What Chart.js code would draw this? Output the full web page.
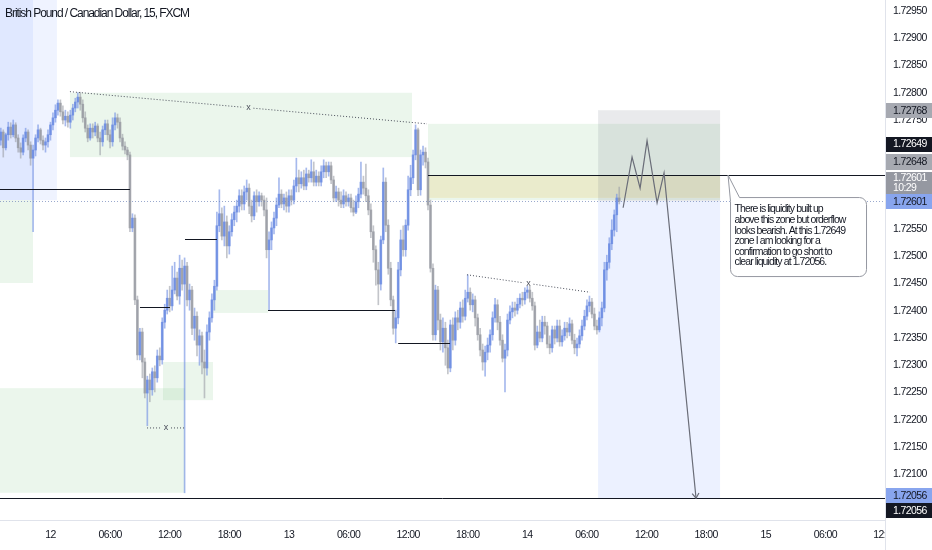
<!DOCTYPE html>
<html>
<head>
<meta charset="utf-8">
<script src="https://cdn.jsdelivr.net/npm/chart.js@4.4.0/dist/chart.umd.min.js"></script>
<style>
  html, body { margin: 0; padding: 0; background: #fff; overflow: hidden; }
  #wrap { width: 932px; height: 550px; position: relative; }
</style>
</head>
<body>
<div id="wrap"><canvas id="chart"></canvas></div>
<script>
const TITLE = 'British Pound / Canadian Dollar, 15, FXCM';
const BAR_COUNTDOWN = '10:29';

// time axis in hours from the 12th 00:00, one bar per 15 minutes
const FIRST_BAR_HOUR = -5;
const BAR_HOURS = 0.25;
const X_MIN = -5.08, X_MAX = 84;
const Y_MIN = 1.720161, Y_MAX = 1.729702;

const opens = [
  1.72713,1.72728,1.72699,1.72723,1.72737,1.72723,1.72741,1.72717,1.72699,1.72691,
  1.72717,1.72728,1.72704,1.72680,1.72695,1.72717,1.72732,1.72713,1.72704,1.72710,
  1.72723,1.72741,1.72754,1.72768,1.72781,1.72765,1.72750,1.72757,1.72746,1.72759,
  1.72772,1.72783,1.72792,1.72779,1.72754,1.72735,1.72717,1.72735,1.72728,1.72739,
  1.72717,1.72710,1.72732,1.72743,1.72723,1.72710,1.72741,1.72754,1.72746,1.72717,
  1.72702,1.72695,1.72686,1.72552,1.72570,1.72420,1.72319,1.72361,1.72306,1.72249,
  1.72273,1.72255,1.72288,1.72277,1.72317,1.72310,1.72379,1.72401,1.72423,1.72409,
  1.72438,1.72460,1.72427,1.72478,1.72449,1.72482,1.72420,1.72438,1.72368,1.72390,
  1.72337,1.72354,1.72306,1.72295,1.72361,1.72387,1.72420,1.72445,1.72556,1.72578,
  1.72537,1.72563,1.72519,1.72545,1.72567,1.72581,1.72592,1.72611,1.72596,1.72618,
  1.72625,1.72592,1.72574,1.72611,1.72600,1.72611,1.72603,1.72585,1.72512,1.72530,
  1.72552,1.72570,1.72594,1.72614,1.72596,1.72607,1.72592,1.72611,1.72603,1.72629,
  1.72644,1.72633,1.72644,1.72629,1.72651,1.72644,1.72655,1.72636,1.72647,1.72636,
  1.72655,1.72666,1.72655,1.72666,1.72640,1.72607,1.72618,1.72603,1.72596,1.72611,
  1.72600,1.72607,1.72589,1.72581,1.72600,1.72614,1.72636,1.72625,1.72611,1.72585,
  1.72545,1.72512,1.72475,1.72449,1.72530,1.72636,1.72557,1.72478,1.72420,1.72368,
  1.72387,1.72475,1.72530,1.72512,1.72557,1.72622,1.72644,1.72686,1.72732,1.72622,
  1.72686,1.72691,1.72673,1.72594,1.72478,1.72356,1.72438,1.72383,1.72343,1.72368,
  1.72332,1.72295,1.72374,1.72346,1.72387,1.72379,1.72405,1.72390,1.72423,1.72434,
  1.72411,1.72420,1.72387,1.72356,1.72328,1.72306,1.72324,1.72337,1.72356,1.72387,
  1.72411,1.72379,1.72346,1.72313,1.72328,1.72383,1.72398,1.72405,1.72401,1.72412,
  1.72423,1.72420,1.72434,1.72438,1.72423,1.72409,1.72337,1.72361,1.72350,1.72379,
  1.72372,1.72339,1.72332,1.72365,1.72350,1.72372,1.72343,1.72354,1.72368,1.72361,
  1.72376,1.72346,1.72332,1.72339,1.72354,1.72372,1.72390,1.72409,1.72416,1.72394,
  1.72372,1.72365,1.72387,1.72405,1.72475,1.72489,1.72523,1.72548,1.72576,1.72607
];
const highs = [
  1.72735,1.72732,1.72726,1.72746,1.72745,1.72750,1.72745,1.72723,1.72708,1.72723,
  1.72735,1.72732,1.72710,1.72704,1.72723,1.72741,1.72735,1.72721,1.72717,1.72732,
  1.72746,1.72763,1.72778,1.72787,1.72787,1.72776,1.72768,1.72765,1.72768,1.72779,
  1.72790,1.72800,1.72801,1.72787,1.72765,1.72741,1.72743,1.72743,1.72746,1.72743,
  1.72728,1.72739,1.72750,1.72750,1.72732,1.72754,1.72763,1.72761,1.72754,1.72724,
  1.72710,1.72700,1.72691,1.72578,1.72576,1.72427,1.72368,1.72368,1.72313,1.72280,
  1.72284,1.72295,1.72299,1.72328,1.72332,1.72387,1.72412,1.72438,1.72445,1.72482,
  1.72489,1.72471,1.72502,1.72493,1.72497,1.72489,1.72449,1.72445,1.72405,1.72398,
  1.72365,1.72361,1.72328,1.72374,1.72398,1.72431,1.72456,1.72581,1.72622,1.72589,
  1.72592,1.72574,1.72556,1.72578,1.72592,1.72603,1.72622,1.72622,1.72629,1.72640,
  1.72633,1.72603,1.72618,1.72622,1.72618,1.72616,1.72611,1.72607,1.72545,1.72563,
  1.72581,1.72607,1.72644,1.72622,1.72614,1.72618,1.72622,1.72622,1.72640,1.72680,
  1.72658,1.72655,1.72658,1.72662,1.72658,1.72677,1.72673,1.72658,1.72655,1.72666,
  1.72677,1.72673,1.72673,1.72673,1.72647,1.72629,1.72625,1.72618,1.72622,1.72618,
  1.72614,1.72614,1.72603,1.72611,1.72625,1.72673,1.72647,1.72669,1.72622,1.72596,
  1.72556,1.72519,1.72489,1.72537,1.72662,1.72644,1.72567,1.72489,1.72427,1.72401,
  1.72489,1.72548,1.72556,1.72567,1.72647,1.72667,1.72695,1.72741,1.72735,1.72695,
  1.72702,1.72699,1.72680,1.72603,1.72486,1.72447,1.72445,1.72394,1.72387,1.72379,
  1.72346,1.72383,1.72387,1.72398,1.72401,1.72416,1.72420,1.72438,1.72466,1.72442,
  1.72431,1.72427,1.72394,1.72368,1.72339,1.72335,1.72350,1.72365,1.72398,1.72423,
  1.72420,1.72390,1.72356,1.72339,1.72394,1.72409,1.72416,1.72416,1.72423,1.72431,
  1.72434,1.72442,1.72445,1.72445,1.72434,1.72416,1.72372,1.72383,1.72390,1.72390,
  1.72379,1.72354,1.72372,1.72372,1.72383,1.72383,1.72365,1.72379,1.72379,1.72387,
  1.72383,1.72357,1.72350,1.72365,1.72383,1.72401,1.72420,1.72427,1.72423,1.72405,
  1.72383,1.72398,1.72416,1.72489,1.72502,1.72534,1.72567,1.72585,1.72614,1.72627
];
const lows = [
  1.72704,1.72682,1.72695,1.72713,1.72717,1.72719,1.72710,1.72691,1.72680,1.72686,
  1.72710,1.72695,1.72667,1.72545,1.72684,1.72710,1.72706,1.72695,1.72691,1.72700,
  1.72713,1.72732,1.72746,1.72759,1.72757,1.72743,1.72739,1.72737,1.72735,1.72750,
  1.72765,1.72772,1.72768,1.72746,1.72728,1.72710,1.72713,1.72717,1.72721,1.72710,
  1.72686,1.72702,1.72723,1.72713,1.72699,1.72702,1.72732,1.72735,1.72710,1.72695,
  1.72688,1.72677,1.72545,1.72545,1.72411,1.72310,1.72310,1.72277,1.72240,1.72189,
  1.72233,1.72245,1.72251,1.72269,1.72299,1.72302,1.72368,1.72394,1.72398,1.72401,
  1.72431,1.72420,1.72412,1.72438,1.72066,1.72409,1.72401,1.72356,1.72346,1.72317,
  1.72300,1.72284,1.72240,1.72282,1.72346,1.72379,1.72401,1.72438,1.72545,1.72530,
  1.72519,1.72497,1.72504,1.72537,1.72556,1.72563,1.72581,1.72585,1.72585,1.72603,
  1.72578,1.72563,1.72567,1.72581,1.72592,1.72592,1.72574,1.72497,1.72401,1.72512,
  1.72541,1.72556,1.72589,1.72589,1.72585,1.72581,1.72581,1.72594,1.72596,1.72618,
  1.72618,1.72625,1.72622,1.72622,1.72636,1.72636,1.72629,1.72629,1.72629,1.72629,
  1.72644,1.72644,1.72647,1.72633,1.72600,1.72600,1.72592,1.72589,1.72589,1.72592,
  1.72592,1.72581,1.72574,1.72578,1.72589,1.72607,1.72614,1.72600,1.72576,1.72534,
  1.72489,1.72447,1.72411,1.72438,1.72523,1.72545,1.72467,1.72409,1.72357,1.72341,
  1.72376,1.72464,1.72500,1.72500,1.72548,1.72611,1.72633,1.72677,1.72611,1.72612,
  1.72667,1.72662,1.72585,1.72471,1.72346,1.72346,1.72365,1.72328,1.72324,1.72300,
  1.72284,1.72288,1.72328,1.72337,1.72365,1.72368,1.72379,1.72383,1.72416,1.72401,
  1.72398,1.72372,1.72346,1.72317,1.72291,1.72280,1.72310,1.72324,1.72346,1.72379,
  1.72365,1.72337,1.72306,1.72251,1.72317,1.72376,1.72387,1.72390,1.72394,1.72405,
  1.72409,1.72412,1.72423,1.72416,1.72401,1.72328,1.72332,1.72343,1.72343,1.72357,
  1.72332,1.72321,1.72324,1.72339,1.72343,1.72335,1.72335,1.72346,1.72350,1.72354,
  1.72339,1.72321,1.72317,1.72332,1.72346,1.72365,1.72383,1.72398,1.72387,1.72365,
  1.72357,1.72361,1.72372,1.72398,1.72456,1.72478,1.72512,1.72537,1.72545,1.72596
];
const closes = [
  1.72728,1.72699,1.72723,1.72737,1.72723,1.72741,1.72717,1.72699,1.72691,1.72717,
  1.72728,1.72704,1.72680,1.72695,1.72717,1.72732,1.72713,1.72704,1.72710,1.72723,
  1.72741,1.72754,1.72768,1.72781,1.72765,1.72750,1.72757,1.72746,1.72759,1.72772,
  1.72783,1.72792,1.72779,1.72754,1.72735,1.72717,1.72735,1.72728,1.72739,1.72717,
  1.72710,1.72732,1.72743,1.72723,1.72710,1.72741,1.72754,1.72746,1.72717,1.72702,
  1.72695,1.72686,1.72552,1.72570,1.72420,1.72319,1.72361,1.72306,1.72249,1.72273,
  1.72255,1.72288,1.72277,1.72317,1.72310,1.72379,1.72401,1.72423,1.72409,1.72438,
  1.72460,1.72427,1.72478,1.72449,1.72482,1.72420,1.72438,1.72368,1.72390,1.72337,
  1.72354,1.72306,1.72295,1.72361,1.72387,1.72420,1.72445,1.72556,1.72578,1.72537,
  1.72563,1.72519,1.72545,1.72567,1.72581,1.72592,1.72611,1.72596,1.72618,1.72625,
  1.72592,1.72574,1.72611,1.72600,1.72611,1.72603,1.72585,1.72512,1.72530,1.72552,
  1.72570,1.72594,1.72614,1.72596,1.72607,1.72592,1.72611,1.72603,1.72629,1.72644,
  1.72633,1.72644,1.72629,1.72651,1.72644,1.72655,1.72636,1.72647,1.72636,1.72655,
  1.72666,1.72655,1.72666,1.72640,1.72607,1.72618,1.72603,1.72596,1.72611,1.72600,
  1.72607,1.72589,1.72581,1.72600,1.72614,1.72636,1.72625,1.72611,1.72585,1.72545,
  1.72512,1.72475,1.72449,1.72530,1.72636,1.72557,1.72478,1.72420,1.72368,1.72387,
  1.72475,1.72530,1.72512,1.72557,1.72622,1.72644,1.72686,1.72732,1.72622,1.72686,
  1.72691,1.72673,1.72594,1.72478,1.72356,1.72438,1.72383,1.72343,1.72368,1.72332,
  1.72295,1.72374,1.72346,1.72387,1.72379,1.72405,1.72390,1.72423,1.72434,1.72411,
  1.72420,1.72387,1.72356,1.72328,1.72306,1.72324,1.72337,1.72356,1.72387,1.72411,
  1.72379,1.72346,1.72313,1.72328,1.72383,1.72398,1.72405,1.72401,1.72412,1.72423,
  1.72420,1.72434,1.72438,1.72423,1.72409,1.72337,1.72361,1.72350,1.72379,1.72372,
  1.72339,1.72332,1.72365,1.72350,1.72372,1.72343,1.72354,1.72368,1.72361,1.72376,
  1.72346,1.72332,1.72339,1.72354,1.72372,1.72390,1.72409,1.72416,1.72394,1.72372,
  1.72365,1.72387,1.72405,1.72475,1.72489,1.72523,1.72548,1.72576,1.72607,1.72601
];

const xTickHours = [0, 6, 12, 18, 24, 30, 36, 42, 48, 54, 60, 66, 72, 78, 84];
const xTickLabels = ['12', '06:00', '12:00', '18:00', '13', '06:00', '12:00', '18:00',
                     '14', '06:00', '12:00', '18:00', '15', '06:00', '12:00'];
const yTicks = [1.721, 1.7215, 1.722, 1.7225, 1.723, 1.7235, 1.724, 1.7245, 1.725,
                1.7255, 1.726, 1.7265, 1.727, 1.7275, 1.728, 1.7285, 1.729, 1.7295];

// drawings: [startHour, endHour, topPrice, bottomPrice]
const blueZones = [[-5.1, -1.76, 1.7298, 1.72603], [-5.1, 0.65, 1.7298, 1.72603]];
const greenZones = [
  [-5.1, -1.76, 1.72603, 1.72451],
  [1.96, 36.39, 1.72800, 1.72682],
  [-5.1, 13.54, 1.72258, 1.72066],
  [11.33, 16.36, 1.72306, 1.72236],
  [16.36, 21.9, 1.72438, 1.72396],
  [38.0, 67.4, 1.72743, 1.72603]
];
const yellowZones = [[38.0, 67.4, 1.72649, 1.72607]];
// short position tool
const shortSpan = [55.12, 67.4];
const shortEntry = 1.72601, shortStop = 1.72768, shortTarget = 1.72056;
// horizontal levels: [startHour, endHour, price]
const levelLines = [
  [-5.1, 8.0, 1.72623], [9.01, 12.03, 1.72407], [13.54, 16.76, 1.72531],
  [21.9, 34.68, 1.72401], [35.0, 40.22, 1.72341], [38.0, 84, 1.72649], [-5.1, 84, 1.72056]
];
// dotted liquidity lines: [h0, p0, h1, p1]
const dottedLines = [
  [1.96, 1.72802, 37.9, 1.72743],
  [41.93, 1.72466, 54.31, 1.72434],
  [9.72, 1.72185, 13.54, 1.72185]
];
const projHours = [57.64, 58.54, 59.35, 60.05, 61.06, 61.76, 64.98];
const projPrices = [1.72589, 1.72682, 1.72625, 1.72712, 1.72598, 1.72653, 1.72056];
const noteAnchor = [68.2, 1.72649];
const noteLines = [
  'There is liquidity built up',
  'above this zone but orderflow',
  'looks bearish. At this 1.72649',
  'zone I am looking for a',
  'confirmation to go short to',
  'clear liquidity at 1.72056.'
];

const FONT = "'Liberation Sans', Arial, sans-serif";
const AXIS_SPACING = '-0.6px';
const TEXT = '#131722';
const UP_BODY = 'rgba(98, 132, 224, 0.75)', UP_WICK = 'rgba(118, 148, 228, 0.65)';
const DN_BODY = 'rgba(145, 148, 156, 0.72)', DN_WICK = 'rgba(155, 158, 166, 0.6)';

const barHours = closes.map((_, i) => FIRST_BAR_HOUR + i * BAR_HOURS);
const isUp = closes.map((c, i) => c >= opens[i]);
const lastClose = closes[closes.length - 1];

function clipArea(ctx, a) {
  ctx.beginPath();
  ctx.rect(a.left, a.top, a.right - a.left, a.bottom - a.top);
  ctx.clip();
}

// squeeze text to a target width with letter spacing (the original uses a narrow face)
function spacingFor(ctx, text, target) {
  ctx.letterSpacing = '0px';
  const w = ctx.measureText(text).width;
  return Math.min(0, (target - w) / text.length) + 'px';
}

const drawings = {
  id: 'drawings',
  beforeDraw(chart) {
    chart.ctx.letterSpacing = AXIS_SPACING;
  },
  beforeDatasetsDraw(chart) {
    const { ctx, chartArea, scales: { x, y } } = chart;
    ctx.save();
    clipArea(ctx, chartArea);
    const rect = (z, color) => {
      const x0 = x.getPixelForValue(z[0]), x1 = x.getPixelForValue(z[1]);
      const y0 = y.getPixelForValue(z[2]), y1 = y.getPixelForValue(z[3]);
      ctx.fillStyle = color;
      ctx.fillRect(x0, y0, x1 - x0, y1 - y0);
    };
    blueZones.forEach(z => rect(z, 'rgba(41, 98, 255, 0.075)'));
    greenZones.forEach(z => rect(z, 'rgba(76, 175, 80, 0.11)'));
    yellowZones.forEach(z => rect(z, 'rgba(232, 186, 50, 0.17)'));
    rect([shortSpan[0], shortSpan[1], shortStop, shortEntry], 'rgba(120, 123, 134, 0.16)');
    rect([shortSpan[0], shortSpan[1], shortEntry, shortTarget], 'rgba(41, 98, 255, 0.09)');
    ctx.restore();
  },
  afterDatasetsDraw(chart) {
    const { ctx, chartArea, scales: { x, y } } = chart;
    ctx.save();
    clipArea(ctx, chartArea);

    // current price line
    const yc = Math.round(y.getPixelForValue(lastClose)) + 0.5;
    ctx.strokeStyle = 'rgba(120, 140, 190, 0.75)';
    ctx.lineWidth = 1;
    ctx.setLineDash([1, 2]);
    ctx.beginPath(); ctx.moveTo(chartArea.left, yc); ctx.lineTo(chartArea.right, yc); ctx.stroke();

    // dotted liquidity lines with an x in the middle
    ctx.strokeStyle = '#4a4e5a';
    ctx.setLineDash([1, 2]);
    dottedLines.forEach(d => {
      const x0 = x.getPixelForValue(d[0]), y0 = y.getPixelForValue(d[1]);
      const x1 = x.getPixelForValue(d[2]), y1 = y.getPixelForValue(d[3]);
      const mx = (x0 + x1) / 2, my = (y0 + y1) / 2;
      const len = Math.hypot(x1 - x0, y1 - y0), ux = (x1 - x0) / len, uy = (y1 - y0) / len;
      ctx.beginPath();
      ctx.moveTo(x0, y0); ctx.lineTo(mx - ux * 5, my - uy * 5);
      ctx.moveTo(mx + ux * 5, my + uy * 5); ctx.lineTo(x1, y1);
      ctx.stroke();
      ctx.fillStyle = '#4a4e5a';
      ctx.font = '9px ' + FONT;
      ctx.letterSpacing = '0px';
      ctx.textAlign = 'center'; ctx.textBaseline = 'middle';
      ctx.fillText('x', mx, my - 0.5);
    });
    ctx.setLineDash([]);

    // solid levels
    ctx.strokeStyle = '#131722';
    levelLines.forEach(l => {
      const yy = Math.round(y.getPixelForValue(l[2])) + 0.5;
      ctx.beginPath();
      ctx.moveTo(x.getPixelForValue(l[0]), yy);
      ctx.lineTo(x.getPixelForValue(l[1]), yy);
      ctx.stroke();
    });

    // projected path
    ctx.strokeStyle = '#6a6d78';
    ctx.lineWidth = 1.2;
    ctx.beginPath();
    projHours.forEach((h, i) => {
      const px = x.getPixelForValue(h), py = y.getPixelForValue(projPrices[i]);
      if (i === 0) ctx.moveTo(px, py); else ctx.lineTo(px, py);
    });
    ctx.stroke();
    const n = projHours.length;
    const ex = x.getPixelForValue(projHours[n - 1]), ey = y.getPixelForValue(projPrices[n - 1]);
    const sx = x.getPixelForValue(projHours[n - 2]), sy = y.getPixelForValue(projPrices[n - 2]);
    const ang = Math.atan2(ey - sy, ex - sx);
    ctx.beginPath();
    ctx.moveTo(ex - 6 * Math.cos(ang - 0.6), ey - 6 * Math.sin(ang - 0.6));
    ctx.lineTo(ex, ey);
    ctx.lineTo(ex - 6 * Math.cos(ang + 0.6), ey - 6 * Math.sin(ang + 0.6));
    ctx.stroke();

    // callout
    const tx = x.getPixelForValue(noteAnchor[0]), ty = y.getPixelForValue(noteAnchor[1]);
    const bx = tx + 2.5, by = ty + 22.5, bw = 136, bh = 79, r = 7;
    ctx.lineWidth = 1;
    ctx.strokeStyle = '#9598a1';
    ctx.fillStyle = '#ffffff';
    ctx.beginPath();
    ctx.moveTo(bx + 9, by);
    ctx.lineTo(tx, ty);
    ctx.lineTo(bx, by + 4);
    ctx.lineTo(bx, by + bh - r);
    ctx.arcTo(bx, by + bh, bx + r, by + bh, r);
    ctx.lineTo(bx + bw - r, by + bh);
    ctx.arcTo(bx + bw, by + bh, bx + bw, by + bh - r, r);
    ctx.lineTo(bx + bw, by + r);
    ctx.arcTo(bx + bw, by, bx + bw - r, by, r);
    ctx.closePath();
    ctx.fill();
    ctx.stroke();
    ctx.fillStyle = TEXT;
    ctx.font = '10.5px ' + FONT;
    ctx.letterSpacing = spacingFor(ctx, noteLines[1], 111);
    ctx.textAlign = 'left'; ctx.textBaseline = 'middle';
    noteLines.forEach((s, i) => ctx.fillText(s, bx + 4, by + 12 + i * 10.6));
    ctx.restore();
  },
  afterDraw(chart) {
    const { ctx, chartArea, scales: { y } } = chart;
    ctx.save();
    // blank the axis corner so the last time label is cut at the price scale
    ctx.fillStyle = '#ffffff';
    ctx.fillRect(chartArea.right + 0.5, chartArea.bottom + 1, 60, 40);
    ctx.strokeStyle = '#e0e3eb';
    ctx.lineWidth = 1;
    ctx.beginPath();
    ctx.moveTo(chartArea.right + 0.5, 0); ctx.lineTo(chartArea.right + 0.5, chart.height);
    ctx.stroke();

    ctx.fillStyle = TEXT;
    ctx.font = '12px ' + FONT;
    ctx.letterSpacing = spacingFor(ctx, TITLE, 184);
    ctx.textAlign = 'left'; ctx.textBaseline = 'middle';
    ctx.fillText(TITLE, 5, 14);

    // price scale tags, stacked the way the platform stacks them
    const tags = [
      { price: shortStop, bg: '#a6a9b1', fg: TEXT, dy: 0, h: 15, pad: 0 },
      { price: 1.72649, bg: '#131722', fg: '#ffffff', dy: -31, h: 15, pad: 3 },
      { price: 1.72648, bg: '#a6a9b1', fg: TEXT, dy: -14, h: 16, pad: 3 },
      { price: lastClose, bg: '#9598a1', fg: '#ffffff', dy: -18.5, h: 22, pad: 3, sub: BAR_COUNTDOWN },
      { price: shortEntry, bg: '#88a5ee', fg: TEXT, dy: 0, h: 15, pad: 3 },
      { price: shortTarget, bg: '#88a5ee', fg: TEXT, dy: -3, h: 15, pad: 3 },
      { price: shortTarget, bg: '#131722', fg: '#ffffff', dy: 12, h: 15, pad: 3 }
    ];
    // the scale hides its own labels under the stacked tags
    ctx.fillStyle = '#ffffff';
    tags.forEach(t => {
      const cy = y.getPixelForValue(t.price) + t.dy;
      ctx.fillRect(chartArea.right + 1, Math.round(cy - t.h / 2) - t.pad, 46, t.h + 2 * t.pad);
    });
    ctx.font = '10.5px ' + FONT;
    ctx.letterSpacing = AXIS_SPACING;
    tags.forEach(t => {
      const cy = y.getPixelForValue(t.price) + t.dy;
      ctx.fillStyle = t.bg;
      ctx.fillRect(chartArea.right + 1, Math.round(cy - t.h / 2), 46, t.h);
      ctx.fillStyle = t.fg;
      if (t.sub) {
        ctx.fillText(t.price.toFixed(5), chartArea.right + 8, cy - 4.5);
        ctx.fillText(t.sub, chartArea.right + 8, cy + 5.5);
      } else {
        ctx.fillText(t.price.toFixed(5), chartArea.right + 8, cy + 0.5);
      }
    });
    ctx.restore();
  }
};

Chart.defaults.font.family = FONT;
Chart.defaults.color = TEXT;

new Chart(document.getElementById('chart'), {
  type: 'bar',
  data: {
    datasets: [
      {
        data: barHours.map((h, i) => ({ x: h, y: [opens[i], closes[i]] })),
        backgroundColor: isUp.map(u => u ? UP_BODY : DN_BODY),
        barThickness: 2,
        minBarLength: 1,
        grouped: false,
        borderWidth: 0
      },
      {
        data: barHours.map((h, i) => ({ x: h, y: [lows[i], highs[i]] })),
        backgroundColor: isUp.map(u => u ? UP_WICK : DN_WICK),
        barThickness: 1,
        grouped: false,
        borderWidth: 0
      }
    ]
  },
  options: {
    responsive: true,
    maintainAspectRatio: false,
    devicePixelRatio: 1,
    animation: false,
    layout: { padding: 0 },
    plugins: { legend: { display: false }, tooltip: { enabled: false } },
    scales: {
      x: {
        type: 'linear',
        min: X_MIN,
        max: X_MAX,
        offset: false,
        grid: { display: false, drawTicks: false },
        border: { color: '#e0e3eb' },
        afterBuildTicks: (scale) => { scale.ticks = xTickHours.map(v => ({ value: v })); },
        afterFit: (scale) => { scale.height = 30; scale.paddingLeft = 0; scale.paddingRight = 0; },
        ticks: {
          autoSkip: false, maxRotation: 0, minRotation: 0, padding: 9,
          font: { size: 10.5 }, color: TEXT,
          callback: (v, i) => xTickLabels[i]
        }
      },
      y: {
        type: 'linear',
        position: 'right',
        min: Y_MIN,
        max: Y_MAX,
        grid: { display: false, drawTicks: false },
        border: { color: '#e0e3eb' },
        afterBuildTicks: (scale) => { scale.ticks = yTicks.map(v => ({ value: v })); },
        afterFit: (scale) => { scale.width = 47; scale.paddingTop = 0; scale.paddingBottom = 0; },
        ticks: {
          padding: 8, font: { size: 10.5 }, color: TEXT,
          callback: (v) => Number(v).toFixed(5)
        }
      }
    }
  },
  plugins: [drawings]
});
</script>
</body>
</html>
